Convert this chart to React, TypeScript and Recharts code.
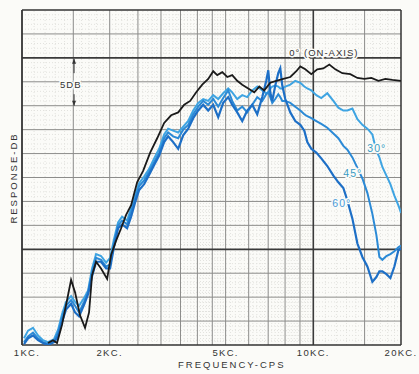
import { LineChart, Line, XAxis, YAxis, ReferenceLine, ReferenceDot } from 'recharts'

// frequencies in kHz, response in dB above the bottom line of the sheet
const BLACK_FREQ = [1.228, 1.278, 1.319, 1.372, 1.428, 1.474, 1.521, 1.582, 1.646, 1.699, 1.74, 1.796, 1.868, 1.96, 2.022, 2.104, 2.189, 2.277, 2.369, 2.484, 2.605, 2.754, 2.911, 3.076, 3.251, 3.437, 3.604, 3.779, 3.963, 4.156, 4.358, 4.534, 4.68, 4.869, 5.066, 5.268, 5.481, 5.702, 5.978, 6.27, 6.523, 6.786, 7.115, 7.463, 7.886, 8.337, 8.742, 9.023, 9.385, 9.842, 10.32, 10.82, 11.35, 11.9, 12.58, 13.4, 14.17, 14.97, 15.82, 16.73, 17.68, 18.69, 20.0]
const BLACK_DB = [0.2, 0.5, 0.2, 2.1, 4.7, 6.8, 5.5, 3.1, 1.8, 3.4, 7.3, 8.7, 8.0, 6.9, 9.4, 10.9, 12.2, 13.6, 14.6, 17.0, 18.2, 20.1, 21.6, 23.2, 24.0, 24.3, 25.1, 25.5, 26.4, 27.2, 27.8, 28.6, 28.2, 28.5, 28.0, 28.2, 27.6, 27.2, 26.8, 26.4, 27.0, 26.6, 27.4, 27.6, 27.8, 28.0, 28.6, 29.1, 28.8, 28.3, 28.8, 28.9, 29.3, 28.8, 28.4, 28.3, 27.9, 27.8, 27.9, 27.6, 27.8, 27.7, 27.6]

const BLUE_FREQ = [1.016, 1.049, 1.091, 1.135, 1.181, 1.228, 1.288, 1.33, 1.372, 1.416, 1.474, 1.521, 1.57, 1.633, 1.686, 1.74, 1.796, 1.868, 1.944, 2.006, 2.071, 2.137, 2.206, 2.295, 2.369, 2.445, 2.524, 2.626, 2.732, 2.842, 2.957, 3.076, 3.175, 3.303, 3.437, 3.575, 3.72, 3.87, 4.026, 4.188, 4.357, 4.533, 4.716, 4.906, 5.104, 5.268, 5.481, 5.702, 5.932, 6.171, 6.42, 6.679, 6.894, 7.004, 7.116, 7.229, 7.403, 7.581, 7.702, 7.825, 8.013, 8.337, 8.672, 9.023, 9.313, 9.537, 9.843, 10.24, 10.65, 11.17, 11.72, 12.19, 12.68, 13.09, 13.62, 14.17, 14.74, 15.33, 15.95, 16.46, 16.86, 17.26, 17.82, 18.39, 18.98, 19.59, 20.0]
const DB_30 = [0.7, 1.5, 1.8, 1.0, 0.5, 0.3, 0.6, 1.6, 3.2, 4.5, 5.1, 4.5, 4.1, 4.9, 5.7, 8.0, 9.5, 9.3, 8.6, 9.1, 11.1, 12.8, 13.4, 13.0, 14.3, 15.7, 16.9, 17.6, 18.4, 19.5, 20.5, 22.0, 22.6, 22.4, 22.2, 22.8, 23.4, 24.5, 25.3, 25.7, 25.5, 26.1, 25.7, 26.3, 26.8, 26.4, 25.7, 26.1, 25.9, 26.6, 27.0, 26.6, 26.3, 26.4, 26.8, 27.0, 27.1, 27.0, 26.8, 26.8, 27.0, 27.2, 27.6, 27.4, 27.0, 26.8, 26.6, 26.1, 25.8, 26.3, 25.5, 24.8, 24.5, 24.5, 24.7, 23.6, 23.0, 22.6, 22.0, 20.3, 19.6, 18.6, 17.7, 16.8, 15.6, 14.6, 13.8]
const DB_45 = [0.3, 0.9, 1.3, 0.7, 0.3, 0.1, 0.4, 1.3, 2.8, 4.1, 4.7, 4.1, 3.4, 4.5, 5.5, 7.6, 9.1, 8.9, 8.2, 8.4, 10.7, 12.5, 13.0, 12.6, 13.9, 15.3, 16.6, 17.2, 18.1, 19.1, 20.1, 21.6, 22.2, 21.8, 21.6, 22.5, 23.0, 24.1, 24.9, 25.5, 25.1, 25.7, 24.9, 25.8, 26.6, 25.5, 24.5, 24.9, 24.3, 25.1, 25.9, 25.5, 26.2, 26.4, 25.9, 25.3, 25.7, 26.2, 25.9, 25.5, 25.5, 25.3, 24.9, 24.5, 24.1, 23.9, 23.7, 23.4, 23.1, 22.7, 22.1, 21.6, 20.8, 20.4, 19.6, 18.5, 17.4, 15.9, 13.7, 11.5, 9.2, 8.9, 9.3, 9.5, 9.8, 10.2, 10.4]
const DB_60 = [0.1, 0.7, 1.0, 0.5, 0.2, 0.0, 0.3, 0.9, 2.4, 3.7, 4.3, 3.4, 3.0, 4.2, 5.3, 7.2, 8.7, 8.7, 8.0, 8.0, 10.3, 12.2, 12.6, 12.2, 13.4, 14.9, 16.2, 16.8, 17.8, 18.8, 19.8, 21.2, 21.8, 21.2, 20.5, 21.9, 22.6, 23.7, 24.5, 25.1, 24.5, 25.1, 23.8, 25.3, 25.9, 25.1, 24.3, 23.4, 24.5, 25.1, 24.1, 25.9, 27.6, 28.7, 26.4, 25.5, 27.1, 28.4, 28.9, 27.1, 25.7, 24.3, 23.4, 23.0, 22.4, 21.2, 20.5, 20.1, 19.5, 18.7, 17.7, 17.0, 16.4, 15.1, 13.2, 10.6, 9.2, 8.2, 6.6, 7.1, 7.7, 7.7, 7.4, 7.0, 8.2, 9.9, 10.1]

const FREQ_TICKS = [1, 2, 5, 10, 20]
const FREQ_TICK_LABELS = ['1KC.', '2KC.', '5KC.', '10KC.', '20KC.']

const GRID_FREQ = [1.5, 2, 2.5, 3, 3.5, 4, 4.5, 5, 6, 7, 8, 9, 15]
const GRID_DB = [2.5, 5, 7.5, 12.5, 15, 17.5, 20, 22.5, 25, 27.5, 32.5]
const HEAVY_DB = [10, 30]

const MINOR_FREQ: number[] = []
for (let f = 1.1; f < 5; f += 0.1) if (Math.abs(f * 2 - Math.round(f * 2)) > 0.01) MINOR_FREQ.push(+f.toFixed(2))
for (let f = 5.2; f < 10; f += 0.2) if (Math.abs(f - Math.round(f)) > 0.01) MINOR_FREQ.push(+f.toFixed(2))
for (let f = 11; f < 20; f += 1) if (f !== 15) MINOR_FREQ.push(f)
const MINOR_DB: number[] = []
for (let d = 0.5; d < 35; d += 0.5) if (Math.abs(d / 2.5 - Math.round(d / 2.5)) > 0.01) MINOR_DB.push(+d.toFixed(1))

const toPoints = (freq: number[], db: number[]) => freq.map((f, i) => ({ f, db: db[i] }))
const black = toPoints(BLACK_FREQ, BLACK_DB)
const deg30 = toPoints(BLUE_FREQ, DB_30)
const deg45 = toPoints(BLUE_FREQ, DB_45)
const deg60 = toPoints(BLUE_FREQ, DB_60)

const FONT = '"Liberation Sans", Arial, sans-serif'

const FreqTick = ({ x, y, payload }: any) => {
  const i = FREQ_TICKS.indexOf(payload.value)
  return (
    <text x={x + (i === 0 ? 5 : 0)} y={y + 3} textAnchor="middle" fontSize={9.5} letterSpacing={1.3}
      fill="#333" fontFamily={FONT}>
      {FREQ_TICK_LABELS[i]}
    </text>
  )
}

const label = (text: string, color: string, size = 10) => (p: any) => (
  <text x={p.cx} y={p.cy} fontSize={size} letterSpacing={1} fill={color} fontFamily={FONT}
    stroke="#fbfbf8" strokeWidth={3} paintOrder="stroke">
    {text}
  </text>
)

const arrow = (up: boolean) => (p: any) => {
  const tipY = up ? Math.min(p.y1, p.y2) : Math.max(p.y1, p.y2)
  const d = up ? 5 : -5
  return (
    <g>
      <line x1={p.x1} y1={p.y1} x2={p.x2} y2={p.y2} stroke="#333" strokeWidth={1} />
      <path d={`M${p.x1 - 2},${tipY + d} L${p.x1},${tipY} L${p.x1 + 2},${tipY + d} Z`} fill="#333" />
    </g>
  )
}

export default function App() {
  return (
    <div style={{ position: 'absolute', left: 0, top: 0, width: 419, height: 374, background: '#fbfbf8', fontFamily: FONT }}>
      <LineChart width={419} height={374} data={black} margin={{ top: 10, right: 18, bottom: 0, left: 22 }}>
        <XAxis dataKey="f" type="number" scale="log" domain={[1, 20]} allowDataOverflow ticks={FREQ_TICKS}
          height={29} axisLine={false} tickLine={false} tick={<FreqTick />} interval={0} />
        <YAxis type="number" domain={[0, 35]} allowDataOverflow hide />

        {MINOR_FREQ.map(f => <ReferenceLine key={'mf' + f} x={f} stroke="#e2e2de" strokeDasharray="1 2" />)}
        {MINOR_DB.map(d => <ReferenceLine key={'md' + d} y={d} stroke="#e2e2de" strokeDasharray="1 2" />)}
        {GRID_FREQ.map(f => <ReferenceLine key={'gf' + f} x={f} stroke="#8c8c8a" strokeWidth={1} />)}
        {GRID_DB.map(d => <ReferenceLine key={'gd' + d} y={d} stroke="#8c8c8a" strokeWidth={1} />)}
        {HEAVY_DB.map(d => <ReferenceLine key={'hd' + d} y={d} stroke="#3a3a3a" strokeWidth={1.8} />)}
        <ReferenceLine x={10} stroke="#3a3a3a" strokeWidth={1.6} />
        <ReferenceLine x={1} stroke="#333" strokeWidth={1.8} />
        <ReferenceLine x={20} stroke="#333" strokeWidth={1.5} />
        <ReferenceLine y={0} stroke="#333" strokeWidth={1.5} />
        <ReferenceLine y={35} stroke="#333" strokeWidth={1.5} />

        <Line data={deg30} dataKey="db" type="linear" dot={false} stroke="#3ea4e2" strokeWidth={2} isAnimationActive={false} />
        <Line data={deg45} dataKey="db" type="linear" dot={false} stroke="#2b8ad6" strokeWidth={2} isAnimationActive={false} />
        <Line data={deg60} dataKey="db" type="linear" dot={false} stroke="#1d6fc6" strokeWidth={2.2} isAnimationActive={false} />
        <Line data={black} dataKey="db" type="linear" dot={false} stroke="#1a1a1a" strokeWidth={1.8} isAnimationActive={false} />

        <ReferenceLine segment={[{ x: 1.509, y: 28.4 }, { x: 1.509, y: 29.9 }]} shape={arrow(true)} />
        <ReferenceLine segment={[{ x: 1.509, y: 26.2 }, { x: 1.509, y: 25.0 }]} shape={arrow(false)} />
        <ReferenceDot x={1.351} y={26.9} r={0} shape={label('5DB', '#333', 9.5)} />
        <ReferenceDot x={8.27} y={30.2} r={0} shape={label('0° (ON-AXIS)', '#333', 9.5)} />
        <ReferenceDot x={15.33} y={20.2} r={0} shape={label('30°', '#3a9cc4', 10.5)} />
        <ReferenceDot x={12.68} y={17.6} r={0} shape={label('45°', '#3a9cc4', 10.5)} />
        <ReferenceDot x={11.62} y={14.4} r={0} shape={label('60°', '#4a9ad8', 10.5)} />
      </LineChart>
      <div style={{ position: 'absolute', left: 178, top: 359, fontSize: 9.5, letterSpacing: 2, color: '#333', lineHeight: '11px' }}>
        FREQUENCY-CPS
      </div>
      <div style={{
        position: 'absolute', left: 13, top: 178, fontSize: 9.5, letterSpacing: 2, color: '#333',
        transform: 'translate(-50%, -50%) rotate(-90deg)', whiteSpace: 'nowrap',
      }}>
        RESPONSE-DB
      </div>
    </div>
  )
}
